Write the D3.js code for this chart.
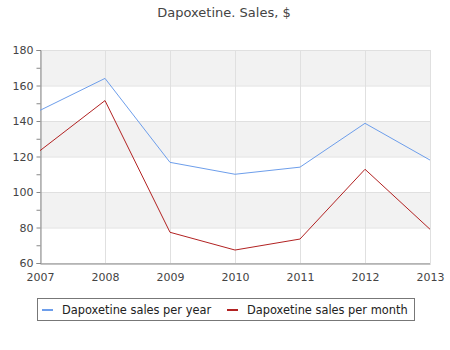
<!DOCTYPE html>
<html><head><meta charset="utf-8">
<script src="https://cdn.jsdelivr.net/npm/d3@7"></script>
<style>body{margin:0;background:#fff}svg{display:block;font-family:"DejaVu Sans",sans-serif}</style>
</head><body>
<svg id="c" width="450" height="350"></svg>
<script>
const years = [2007, 2008, 2009, 2010, 2011, 2012, 2013];
const perYear = [146, 164, 116.7, 110, 114, 138.7, 118];
const perMonth = [123.3, 151.5, 77.3, 67.3, 73.5, 112.8, 79];
const yTicks = [60, 80, 100, 120, 140, 160, 180];
const seriesNames = ["Dapoxetine sales per year", "Dapoxetine sales per month"];
const seriesColors = ["#6d9eeb", "#b22222"];
const title = "Dapoxetine. Sales, $";

const svg = d3.select("#c");
const L = 40, R = 430, T = 50, B = 263;
const x = d3.scaleLinear().domain([2007, 2013]).range([L, R]);
const y = d3.scaleLinear().domain([60, 180]).range([B, T]);

svg.append("text").attr("x", 224).attr("y", 17).attr("text-anchor", "middle")
  .attr("font-size", 13).attr("fill", "#444").text(title);

// bands
const bands = d3.range(0, yTicks.length - 1).filter(i => i % 2 === 0);
svg.append("g").selectAll("rect").data(bands).join("rect")
  .attr("x", L).attr("width", R - L)
  .attr("y", i => y(yTicks[yTicks.length - 1 - i]))
  .attr("height", i => y(yTicks[yTicks.length - 2 - i]) - y(yTicks[yTicks.length - 1 - i]))
  .attr("fill", "#f2f2f2");

// grid
const g = svg.append("g");
g.selectAll("line.h").data(yTicks).join("line").attr("class", "h")
  .attr("x1", L).attr("x2", R).attr("y1", d => y(d) + 0.5).attr("y2", d => y(d) + 0.5)
  .attr("stroke", "#e0e0e0");
g.selectAll("line.v").data(years).join("line").attr("class", "v")
  .attr("y1", T).attr("y2", B).attr("x1", d => Math.round(x(d)) + 0.5).attr("x2", d => Math.round(x(d)) + 0.5)
  .attr("stroke", "#e0e0e0");

// axes
const yAxis = d3.axisLeft(y).tickValues(d3.range(60, 181, 10)).tickSize(4)
  .tickFormat(d => yTicks.includes(d) ? d : "");
const ya = svg.append("g").attr("transform", `translate(${L + 0.5},0)`).call(yAxis);
ya.select(".domain").attr("stroke", "#888");
ya.selectAll(".tick line").attr("stroke", "#888");
ya.selectAll(".tick text").attr("font-size", 11).attr("fill", "#444").attr("font-family", "DejaVu Sans");

const xAxis = d3.axisBottom(x).tickValues(years).tickSize(0).tickFormat(d3.format("d"));
const xa = svg.append("g").attr("transform", `translate(0,${B + 0.5})`).call(xAxis);
xa.select(".domain").attr("stroke", "#888");
xa.selectAll(".tick text").attr("font-size", 11).attr("fill", "#444").attr("y", 10).attr("font-family", "DejaVu Sans");

// lines
const line = d3.line().x((d, i) => x(years[i])).y(d => y(d));
[perYear, perMonth].forEach((s, k) => {
  svg.append("path").datum(s).attr("d", line).attr("fill", "none")
    .attr("stroke", seriesColors[k]).attr("stroke-width", 1);
});

// legend
const lg = svg.append("g");
lg.append("rect").attr("x", 37.5).attr("y", 298.5).attr("width", 377).attr("height", 22)
  .attr("fill", "#fff").attr("stroke", "#777");
const lx = [42, 227];
seriesNames.forEach((n, k) => {
  lg.append("line").attr("x1", lx[k]).attr("x2", lx[k] + 11).attr("y1", 310).attr("y2", 310)
    .attr("stroke", seriesColors[k]).attr("stroke-width", 2);
  lg.append("text").attr("x", lx[k] + 20).attr("y", 314).attr("font-size", 11.4).attr("fill", "#222").text(n);
});
</script>
</body></html>
